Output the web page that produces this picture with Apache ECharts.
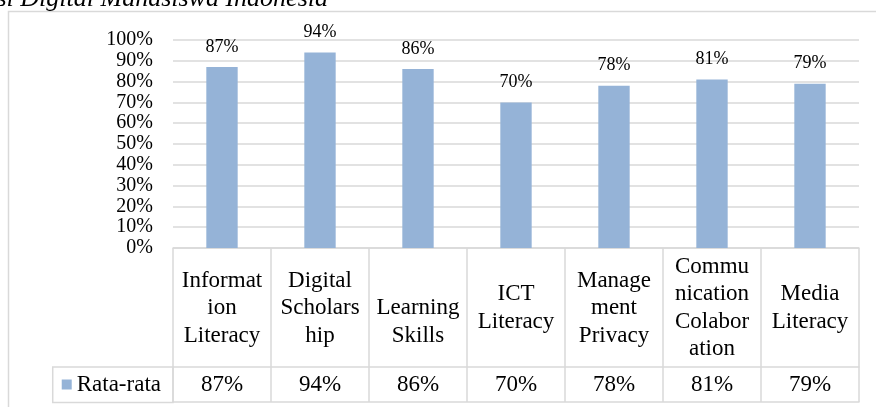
<!DOCTYPE html>
<html>
<head>
<meta charset="utf-8">
<script src="https://cdn.jsdelivr.net/npm/echarts@6/dist/echarts.min.js"></script>
<style>
  html, body { margin: 0; padding: 0; background: #fff; }
  #chart { width: 876px; height: 407px; }
</style>
</head>
<body>
<div id="chart"></div>
<script>
// data
var categories = ['Information Literacy', 'Digital Scholarship', 'Learning Skills', 'ICT Literacy',
  'Management Privacy', 'Communication Colaboration', 'Media Literacy'];
// header cells as wrapped in the table
var tableLabels = ['Informat\nion\nLiteracy', 'Digital\nScholars\nhip', '\nLearning\nSkills', 'ICT\nLiteracy',
  'Manage\nment\nPrivacy', 'Commu\nnication\nColabor\nation', 'Media\nLiteracy'];
var rataRata = [87, 94, 86, 70, 78, 81, 79];
var yTicks = [0, 10, 20, 30, 40, 50, 60, 70, 80, 90, 100];
var seriesName = 'Rata-rata';
var titleText = 'Literasi Digital Mahasiswa Indonesia';

var serif = 'Liberation Serif';
var gridColor = '#D9D9D9';

var chartDom = document.getElementById('chart');
var myChart = echarts.init(chartDom);
var option;

option = {
  animation: false,
  backgroundColor: '#fff',
  textStyle: { fontFamily: serif },
  graphic: [
    {
      type: 'rect',
      z: -1,
      shape: { x: 8.5, y: 11.5, width: 900, height: 420 },
      style: { fill: 'none', stroke: gridColor, lineWidth: 1.5 }
    },
    {
      type: 'text',
      x: 328,
      y: -1,
      style: {
        text: titleText,
        font: 'italic 26px "Liberation Serif"',
        fill: '#000',
        align: 'right',
        verticalAlign: 'middle'
      }
    }
  ],
  legend: {
    data: [seriesName],
    right: 703,
    top: 367,
    icon: 'rect',
    itemWidth: 10,
    itemHeight: 10,
    padding: [6, 12, 6.5, 9],
    borderColor: gridColor,
    borderWidth: 1.5,
    textStyle: { fontFamily: serif, fontSize: 23, color: '#000' }
  },
  grid: {
    left: 173,
    right: 17,
    top: 40,
    bottom: 159,
    containLabel: false,
    outerBoundsMode: 'none'
  },
  xAxis: [
    {
      type: 'category',
      data: tableLabels,
      position: 'bottom',
      axisLine: { show: true, onZero: false, lineStyle: { color: gridColor, width: 1.5 } },
      axisTick: { show: true, length: 119, lineStyle: { color: gridColor, width: 1.5 } },
      axisLabel: {
        margin: 60,
        verticalAlign: 'middle',
        fontFamily: serif,
        fontSize: 23,
        lineHeight: 27.5,
        color: '#000',
        interval: 0
      }
    },
    {
      type: 'category',
      data: categories,
      position: 'bottom',
      offset: 119,
      axisLine: { show: true, onZero: false, lineStyle: { color: gridColor, width: 1.5 } },
      axisTick: { show: true, length: 35, lineStyle: { color: gridColor, width: 1.5 } },
      axisLabel: {
        margin: 17.5,
        verticalAlign: 'middle',
        fontFamily: serif,
        fontSize: 23,
        color: '#000',
        interval: 0,
        formatter: function (v, i) { return rataRata[i] + '%'; }
      }
    },
    {
      type: 'category',
      data: categories,
      position: 'bottom',
      offset: 154,
      axisLine: { show: true, onZero: false, lineStyle: { color: gridColor, width: 1.5 } },
      axisTick: { show: false },
      axisLabel: { show: false }
    }
  ],
  yAxis: {
    type: 'value',
    min: yTicks[0],
    max: yTicks[yTicks.length - 1],
    interval: 10,
    axisLine: { show: false },
    axisTick: { show: false },
    splitLine: { lineStyle: { color: gridColor, width: 1.5 } },
    axisLabel: {
      margin: 20,
      fontFamily: serif,
      fontSize: 20,
      color: '#000',
      formatter: '{value}%'
    }
  },
  series: [
    {
      name: seriesName,
      type: 'bar',
      xAxisIndex: 0,
      barWidth: '32%',
      itemStyle: { color: '#95B3D7' },
      label: {
        show: true,
        position: 'top',
        distance: 11,
        fontFamily: serif,
        fontSize: 18,
        color: '#000',
        formatter: '{c}%'
      },
      data: rataRata
    }
  ]
};

if (option && typeof option === 'object') {
  myChart.setOption(option);
}
</script>
</body>
</html>
